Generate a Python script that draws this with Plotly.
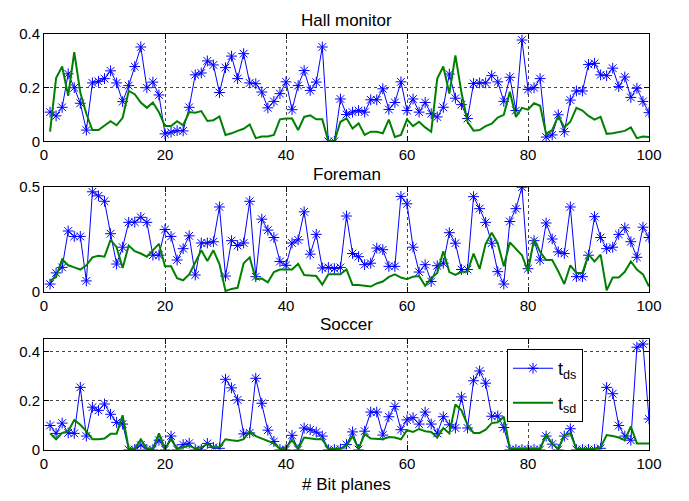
import plotly.graph_objects as go

x = list(range(1, 101))

hall_ds = [0.109, 0.095, 0.127, 0.252, 0.2, 0.142, 0.042, 0.218, 0.224, 0.234,
           0.263, 0.218, 0.148, 0.208, 0.279, 0.352, 0.2, 0.221, 0.173, 0.028,
           0.034, 0.04, 0.039, 0.127, 0.248, 0.255, 0.3, 0.285, 0.182, 0.275,
           0.318, 0.234, 0.327, 0.218, 0.215, 0.184, 0.125, 0.149, 0.178, 0.222,
           0.118, 0.208, 0.264, 0.19, 0.221, 0.352, 0.0, 0.0, 0.158, 0.1,
           0.109, 0.115, 0.109, 0.155, 0.155, 0.196, 0.119, 0.145, 0.222, 0.115,
           0.158, 0.109, 0.145, 0.103, 0.091, 0.127, 0.251, 0.161, 0.137, 0.085,
           0.216, 0.218, 0.218, 0.245, 0.222, 0.149, 0.239, 0.115, 0.378, 0.194,
           0.2, 0.234, 0.016, 0.024, 0.099, 0.036, 0.154, 0.188, 0.188, 0.287,
           0.291, 0.248, 0.245, 0.273, 0.204, 0.24, 0.164, 0.198, 0.149, 0.107]
hall_sd = [0.036, 0.236, 0.279, 0.17, 0.333, 0.182, 0.103, 0.042, 0.042, 0.06,
           0.075, 0.06, 0.088, 0.188, 0.176, 0.145, 0.125, 0.145, 0.109, 0.057,
           0.057, 0.075, 0.06, 0.109, 0.107, 0.113, 0.076, 0.079, 0.093, 0.024,
           0.03, 0.039, 0.047, 0.063, 0.012, 0.018, 0.018, 0.024, 0.082, 0.085,
           0.085, 0.042, 0.091, 0.097, 0.082, 0.082, 0.0, 0.0, 0.073, 0.086,
           0.048, 0.067, 0.024, 0.036, 0.036, 0.03, 0.081, 0.016, 0.024, 0.082,
           0.057, 0.073, 0.052, 0.036, 0.234, 0.279, 0.178, 0.321, 0.182, 0.073,
           0.04, 0.042, 0.057, 0.066, 0.089, 0.099, 0.185, 0.091, 0.125, 0.118,
           0.142, 0.133, 0.027, 0.042, 0.095, 0.052, 0.073, 0.125, 0.115, 0.095,
           0.081, 0.091, 0.028, 0.03, 0.034, 0.039, 0.052, 0.012, 0.018, 0.016]

foreman_ds = [0.038, 0.091, 0.117, 0.29, 0.264, 0.264, 0.053, 0.476, 0.457, 0.431,
              0.277, 0.133, 0.213, 0.331, 0.332, 0.355, 0.331, 0.175, 0.175, 0.297,
              0.264, 0.152, 0.206, 0.267, 0.081, 0.233, 0.233, 0.239, 0.404, 0.076,
              0.244, 0.221, 0.233, 0.431, 0.073, 0.346, 0.294, 0.259, 0.145, 0.127,
              0.233, 0.248, 0.381, 0.18, 0.274, 0.114, 0.117, 0.111, 0.117, 0.361,
              0.183, 0.168, 0.13, 0.137, 0.209, 0.201, 0.122, 0.122, 0.454, 0.419,
              0.213, 0.095, 0.13, 0.05, 0.125, 0.137, 0.282, 0.232, 0.107, 0.107,
              0.453, 0.396, 0.331, 0.232, 0.097, 0.038, 0.335, 0.396, 0.498, 0.111,
              0.244, 0.152, 0.328, 0.252, 0.191, 0.183, 0.404, 0.073, 0.073, 0.175,
              0.358, 0.259, 0.206, 0.213, 0.274, 0.305, 0.239, 0.165, 0.308, 0.259]
foreman_sd = [0.053, 0.072, 0.155, 0.127, 0.117, 0.107, 0.127, 0.165, 0.172, 0.168,
              0.248, 0.213, 0.114, 0.221, 0.194, 0.183, 0.168, 0.201, 0.229, 0.122,
              0.122, 0.066, 0.056, 0.084, 0.14, 0.198, 0.148, 0.198, 0.133, 0.005,
              0.015, 0.02, 0.137, 0.165, 0.061, 0.064, 0.046, 0.095, 0.107, 0.107,
              0.107, 0.134, 0.081, 0.079, 0.076, 0.035, 0.084, 0.084, 0.084, 0.108,
              0.034, 0.034, 0.03, 0.026, 0.041, 0.05, 0.072, 0.084, 0.069, 0.061,
              0.073, 0.076, 0.03, 0.066, 0.091, 0.194, 0.095, 0.081, 0.096, 0.096,
              0.183, 0.11, 0.229, 0.282, 0.232, 0.122, 0.236, 0.206, 0.175, 0.099,
              0.252, 0.191, 0.152, 0.152, 0.099, 0.038, 0.127, 0.091, 0.091, 0.178,
              0.145, 0.178, 0.008, 0.069, 0.069, 0.096, 0.145, 0.107, 0.084, 0.026]

soccer_ds = [0.098, 0.066, 0.108, 0.068, 0.066, 0.254, 0.055, 0.173, 0.16, 0.186,
             0.144, 0.111, 0.104, 0.0, 0.0, 0.018, 0.0, 0.0, 0.038, 0.0,
             0.055, 0.0, 0.02, 0.026, 0.0, 0.0, 0.025, 0.009, 0.005, 0.287,
             0.252, 0.203, 0.064, 0.068, 0.291, 0.189, 0.079, 0.033, 0.0, 0.0,
             0.058, 0.0, 0.088, 0.081, 0.071, 0.055, 0.0, 0.0, 0.002, 0.02,
             0.072, 0.0, 0.075, 0.153, 0.153, 0.059, 0.134, 0.176, 0.081, 0.121,
             0.13, 0.104, 0.153, 0.104, 0.066, 0.134, 0.101, 0.088, 0.215, 0.088,
             0.281, 0.321, 0.271, 0.136, 0.137, 0.09, 0.0, 0.0, 0.0, 0.0,
             0.0, 0.0, 0.055, 0.022, 0.0, 0.055, 0.085, 0.0, 0.0, 0.0,
             0.0, 0.005, 0.254, 0.228, 0.098, 0.055, 0.038, 0.418, 0.431, 0.125]
soccer_sd = [0.066, 0.042, 0.068, 0.075, 0.121, 0.101, 0.075, 0.042, 0.042, 0.045,
             0.064, 0.064, 0.14, 0.003, 0.003, 0.042, 0.003, 0.003, 0.066, 0.003,
             0.042, 0.003, 0.009, 0.016, 0.004, 0.009, 0.022, 0.009, 0.009, 0.042,
             0.038, 0.035, 0.042, 0.075, 0.055, 0.045, 0.035, 0.025, 0.003, 0.009,
             0.038, 0.003, 0.049, 0.045, 0.042, 0.042, 0.003, 0.003, 0.004, 0.015,
             0.055, 0.003, 0.064, 0.045, 0.042, 0.042, 0.051, 0.049, 0.042, 0.079,
             0.072, 0.084, 0.075, 0.072, 0.049, 0.088, 0.066, 0.184, 0.16, 0.101,
             0.068, 0.068, 0.081, 0.108, 0.111, 0.134, 0.003, 0.003, 0.003, 0.003,
             0.003, 0.003, 0.062, 0.022, 0.003, 0.059, 0.066, 0.003, 0.003, 0.003,
             0.003, 0.009, 0.059, 0.055, 0.049, 0.038, 0.094, 0.025, 0.025, 0.025]

titles = ["Hall monitor", "Foreman", "Soccer"]
x_ticks = [0, 20, 40, 60, 80, 100]
y_ticks = [[0, 0.2, 0.4], [0, 0.5], [0, 0.2, 0.4]]
y_ranges = [[0, 0.4], [0, 0.5], [0, 0.45]]
xlabel = "# Bit planes"
legend_names = ["t<sub>ds</sub>", "t<sub>sd</sub>"]

BLUE = "#0000ff"
GREEN = "#008000"
FONT = "Liberation Sans, Arial, sans-serif"

W, H = 689, 501
L, R = 44, 649
# pixel top/bottom of each axes box
boxes = [(26, 137), (184, 293), (342, 456)]
title_y = [12, 171, 327]

fig = go.Figure()
series = [(hall_ds, hall_sd), (foreman_ds, foreman_sd), (soccer_ds, soccer_sd)]
for i, (ds, sd) in enumerate(series):
    sfx = "" if i == 0 else str(i + 1)
    fig.add_trace(go.Scatter(
        x=x, y=ds, mode="lines+markers", name=legend_names[0], legendgroup="ds",
        line=dict(color=BLUE, width=1),
        marker=dict(symbol="asterisk-open", size=9, color=BLUE, line=dict(color=BLUE, width=1)),
        xaxis="x" + sfx, yaxis="y" + sfx, showlegend=(i == 2)))
    fig.add_trace(go.Scatter(
        x=x, y=sd, mode="lines", name=legend_names[1], legendgroup="sd",
        line=dict(color=GREEN, width=2),
        xaxis="x" + sfx, yaxis="y" + sfx, showlegend=(i == 2)))

layout = dict(
    width=W, height=H, margin=dict(l=L, r=W - R, t=0, b=0),
    paper_bgcolor="white", plot_bgcolor="white",
    font=dict(family=FONT, size=15, color="black"),
    legend=dict(x=(507 - L) / (R - L), y=1 - 352 / H, xanchor="left", yanchor="top",
                bordercolor="black", borderwidth=1, bgcolor="white",
                font=dict(size=18, family=FONT), tracegroupgap=8, itemwidth=40),
    annotations=[],
)
for i in range(3):
    sfx = "" if i == 0 else str(i + 1)
    top, bot = boxes[i]
    ax = dict(
        domain=[0, 1], range=[0, 100], tickvals=x_ticks,
        showline=True, linecolor="black", linewidth=1, mirror="ticks",
        ticks="inside", ticklen=5, tickcolor="black",
        showgrid=True, gridcolor="#444444", griddash="dot", gridwidth=1,
        zeroline=False, tickfont=dict(size=15),
        anchor="y" + sfx,
    )
    ay = dict(
        domain=[1 - bot / H, 1 - top / H], range=y_ranges[i], tickvals=y_ticks[i],
        ticktext=[("%g" % v) for v in y_ticks[i]],
        showline=True, linecolor="black", linewidth=1, mirror="ticks",
        ticks="inside", ticklen=5, tickcolor="black",
        showgrid=True, gridcolor="#444444", griddash="dot", gridwidth=1,
        zeroline=False, tickfont=dict(size=15),
        anchor="x" + sfx,
    )
    layout["xaxis" + sfx] = ax
    layout["yaxis" + sfx] = ay
    layout["annotations"].append(dict(
        text=titles[i], x=0.5, y=1 - title_y[i] / H, xref="paper", yref="paper",
        xanchor="center", yanchor="middle", showarrow=False, font=dict(size=17)))

layout["annotations"].append(dict(
    text=xlabel, x=0.5, y=1 - 492 / H, xref="paper", yref="paper",
    xanchor="center", yanchor="middle", showarrow=False, font=dict(size=17)))

fig.update_layout(**layout)
fig.write_html("out.html")
